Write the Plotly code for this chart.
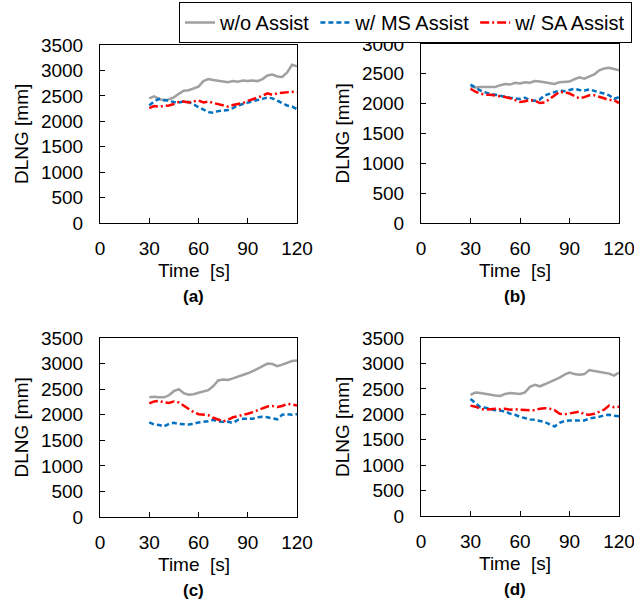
import plotly.graph_objects as go

t = [30, 33, 36, 39, 42, 45, 48, 51, 54, 57, 60, 63, 66, 69, 72, 75, 78, 81, 84, 87, 90,
     93, 96, 99, 102, 105, 108, 111, 114, 117, 120]

# (a)
a_wo = [2450, 2490, 2440, 2410, 2430, 2470, 2540, 2600, 2610, 2640, 2680, 2790, 2830, 2810, 2800, 2780,
        2770, 2790, 2780, 2800, 2790, 2800, 2790, 2830, 2900, 2920, 2880, 2870, 2960, 3110, 3080]
a_ms = [2310, 2390, 2440, 2420, 2390, 2380, 2370, 2390, 2380, 2330, 2280, 2220, 2180, 2170, 2200, 2210,
        2220, 2260, 2310, 2340, 2370, 2400, 2420, 2440, 2470, 2450, 2400, 2360, 2310, 2290, 2240]
a_sa = [2260, 2300, 2290, 2300, 2310, 2340, 2380, 2390, 2370, 2390, 2410, 2370, 2390, 2360, 2340, 2320,
        2290, 2320, 2340, 2360, 2400, 2430, 2460, 2500, 2550, 2520, 2550, 2560, 2570, 2580, 2570]
# (b)
b_wo = [2290, 2270, 2280, 2280, 2290, 2280, 2310, 2330, 2320, 2350, 2340, 2360, 2350, 2380, 2370, 2360,
        2350, 2330, 2360, 2370, 2370, 2410, 2440, 2420, 2450, 2490, 2560, 2590, 2600, 2580, 2560]
b_ms = [2320, 2270, 2220, 2190, 2160, 2150, 2130, 2120, 2100, 2090, 2080, 2100, 2060, 2050, 2070, 2140,
        2170, 2190, 2220, 2210, 2230, 2250, 2230, 2220, 2240, 2210, 2190, 2170, 2140, 2080, 2110]
b_sa = [2250, 2200, 2170, 2150, 2150, 2140, 2130, 2110, 2090, 2060, 2030, 2040, 2060, 2050, 2010, 2020,
        2080, 2150, 2200, 2190, 2170, 2130, 2090, 2110, 2140, 2140, 2120, 2090, 2060, 2060, 2010]
# (c)
c_wo = [2340, 2350, 2340, 2340, 2380, 2460, 2500, 2420, 2390, 2400, 2430, 2450, 2480, 2560, 2670, 2690,
        2680, 2710, 2740, 2780, 2810, 2850, 2900, 2940, 3000, 2990, 2950, 2980, 3010, 3050, 3060]
c_ms = [1850, 1810, 1800, 1770, 1820, 1840, 1820, 1810, 1810, 1820, 1850, 1860, 1870, 1900, 1870, 1860,
        1860, 1840, 1900, 1920, 1920, 1920, 1950, 1960, 1950, 1930, 1910, 2000, 2010, 2000, 2010]
c_sa = [2220, 2260, 2270, 2240, 2230, 2260, 2240, 2180, 2120, 2050, 2010, 2000, 1990, 1940, 1910, 1870,
        1900, 1950, 1970, 1990, 2020, 2050, 2090, 2120, 2160, 2170, 2150, 2170, 2210, 2200, 2180]
# (d)
d_wo = [2380, 2430, 2420, 2400, 2380, 2370, 2360, 2400, 2420, 2410, 2400, 2430, 2540, 2580, 2550, 2590,
        2630, 2680, 2720, 2780, 2820, 2790, 2780, 2790, 2870, 2850, 2830, 2820, 2800, 2760, 2820]
d_ms = [2300, 2210, 2140, 2130, 2100, 2080, 2070, 2060, 2010, 1990, 1950, 1920, 1900, 1890, 1870, 1850,
        1800, 1760, 1830, 1870, 1880, 1880, 1870, 1880, 1920, 1930, 1950, 1980, 1990, 1970, 1960]
d_sa = [2170, 2150, 2110, 2090, 2100, 2110, 2100, 2110, 2090, 2100, 2090, 2080, 2080, 2080, 2110, 2120,
        2110, 2080, 2010, 2000, 2020, 2040, 2050, 2000, 1990, 2010, 2050, 2090, 2170, 2140, 2150]

series_names = ["w/o Assist", "w/ MS Assist", "w/ SA Assist"]
panel_labels = ["(a)", "(b)", "(c)", "(d)"]
x_ticks = [0, 30, 60, 90, 120]
y_max = [3500, 3000, 3500, 3500]
y_step = 500

W, H = 634, 601
FONT = "Liberation Sans, Arial, sans-serif"
colors = ["#A0A0A0", "#0070C0", "#FF0000"]
dashes = ["solid", "5px,3px", "9px,3px,2px,3px"]

panels = [(a_wo, a_ms, a_sa), (b_wo, b_ms, b_sa), (c_wo, c_ms, c_sa), (d_wo, d_ms, d_sa)]
# pixel boxes (left, right, top, bottom)
boxes = [(100, 297, 45, 223), (421, 619, 44, 223), (100, 297, 338, 517), (421, 619, 338, 516)]

fig = go.Figure()
for i, data in enumerate(panels):
    xa = "x" if i == 0 else f"x{i+1}"
    ya = "y" if i == 0 else f"y{i+1}"
    for j, ys in enumerate(data):
        fig.add_trace(go.Scatter(
            x=t, y=ys, mode="lines", name=series_names[j],
            line=dict(color=colors[j], width=2.5, dash=dashes[j]),
            xaxis=xa, yaxis=ya, showlegend=(i == 0), hoverinfo="skip"))

layout = dict(
    width=W, height=H, margin=dict(l=0, r=0, t=0, b=0, autoexpand=False),
    paper_bgcolor="white", plot_bgcolor="white",
    font=dict(family=FONT, size=19, color="black"),
    showlegend=True,
    legend=dict(orientation="h", x=632 / W, xanchor="right", y=1 - 2 / H, yanchor="top",
                bordercolor="black", borderwidth=1, bgcolor="white",
                font=dict(size=20), tracegroupgap=0, itemwidth=30),
)
annotations = []
for i, (l, r, tp, bt) in enumerate(boxes):
    k = "" if i == 0 else str(i + 1)
    layout["xaxis" + k] = dict(
        domain=[l / W, r / W], range=[x_ticks[0], x_ticks[-1]], tickvals=x_ticks, anchor="y" + k,
        ticks="inside", ticklen=5, tickwidth=1, tickcolor="black",
        showline=True, linecolor="black", linewidth=1, mirror=True,
        showgrid=False, zeroline=False, layer="above traces",
        automargin=False, ticklabeloverflow="allow", tickfont=dict(size=19),
        ticklabelstandoff=8)
    layout["yaxis" + k] = dict(
        domain=[1 - bt / H, 1 - tp / H], range=[0, y_max[i]], dtick=y_step, anchor="x" + k,
        ticks="inside", ticklen=5, tickwidth=1, tickcolor="black",
        showline=True, linecolor="black", linewidth=1, mirror=True,
        showgrid=False, zeroline=False, layer="above traces",
        automargin=False, ticklabeloverflow="allow", tickfont=dict(size=19),
        ticklabelstandoff=12)
    cx = (l + r) / 2 - 5
    annotations.append(dict(text="DLNG [mm]", x=(l - 79) / W, y=1 - ((tp + bt) / 2) / H,
                            xref="paper", yref="paper", showarrow=False, textangle=-90,
                            font=dict(size=19), xanchor="center", yanchor="middle"))
    annotations.append(dict(text="Time\u00a0 [s]", x=cx / W, y=1 - (bt + 47) / H,
                            xref="paper", yref="paper", showarrow=False,
                            font=dict(size=19), xanchor="center", yanchor="middle"))
    annotations.append(dict(text="<b>" + panel_labels[i] + "</b>", x=cx / W, y=1 - (bt + 73) / H,
                            xref="paper", yref="paper", showarrow=False,
                            font=dict(size=17), xanchor="center", yanchor="middle"))
layout["annotations"] = annotations
fig.update_layout(**layout)
fig.write_html("out.html", config={"displayModeBar": False},
               post_script="document.body.style.margin='0';document.body.style.overflow='hidden';")
